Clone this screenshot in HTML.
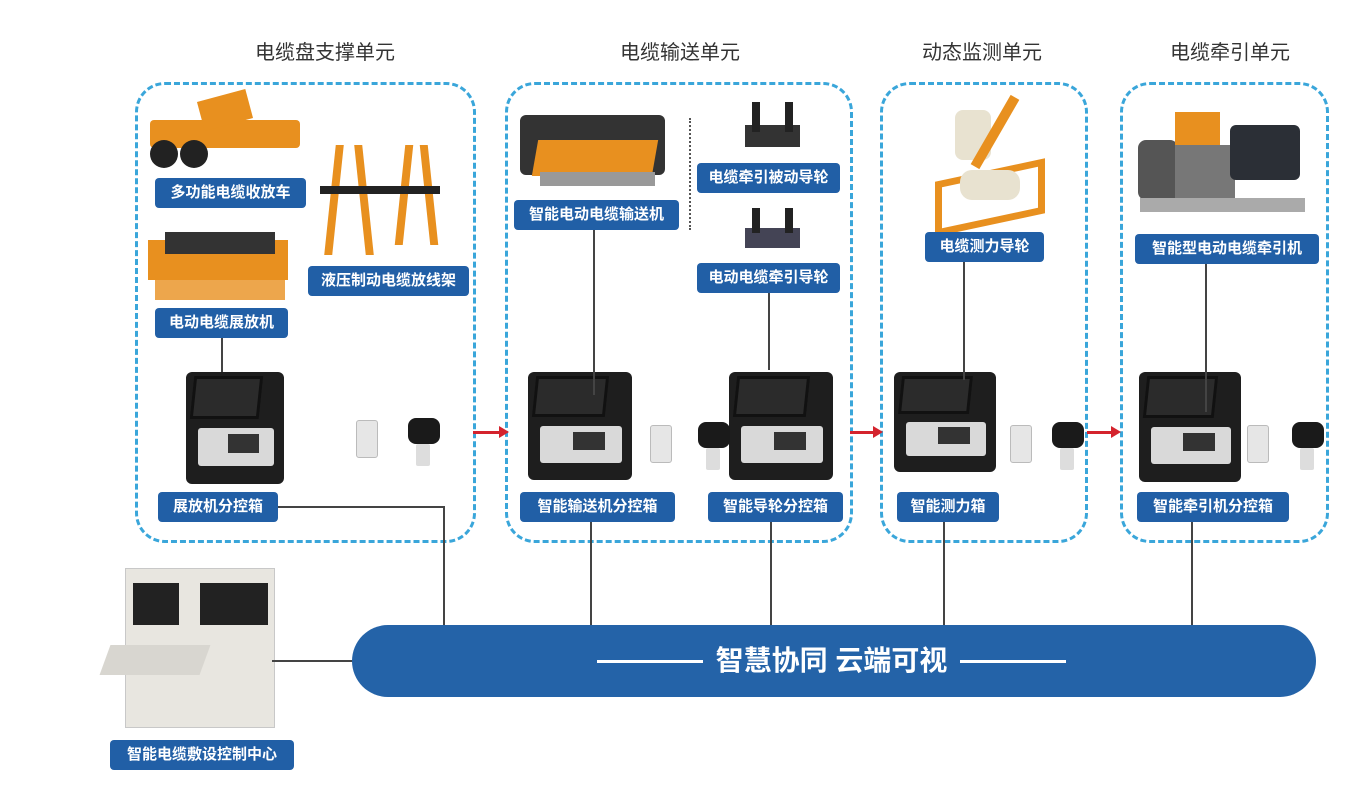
<!DOCTYPE html>
<html><head><meta charset="utf-8">
<style>
*{margin:0;padding:0;box-sizing:border-box}
body{width:1362px;height:804px;background:#fff;position:relative;overflow:hidden;font-family:"Liberation Sans","Noto Sans CJK SC",sans-serif}
.t{position:absolute;font-size:20px;color:#333;top:36px;white-space:nowrap}
.box{position:absolute;border:3px dashed #3aa6da;border-radius:30px}
.lb{position:absolute;background:#215fa6;color:#fff;font-weight:bold;font-size:15px;height:30px;line-height:30px;text-align:center;border-radius:4px;white-space:nowrap}
.v{position:absolute;width:2px;background:#444}
.h{position:absolute;height:2px;background:#444}
.case{position:absolute;background:#1e1e1e;border-radius:6px}
.case .lid{position:absolute;left:6%;top:4%;width:70%;height:38%;background:#2b2b2b;border:3px solid #111;transform:skewX(-6deg)}
.case .pan{position:absolute;left:12%;top:50%;width:78%;height:34%;background:#d9d9d9;border-radius:3px}
.case .pan:after{content:"";position:absolute;left:40%;top:15%;width:40%;height:50%;background:#333}
.sen{position:absolute;width:22px;height:38px;background:#e6e6e6;border:1px solid #bbb;border-radius:3px}
.sen2{position:absolute;width:32px;height:26px;background:#1a1a1a;border-radius:8px}
.sen2:after{content:"";position:absolute;left:8px;top:26px;width:14px;height:22px;background:#ddd;border-radius:2px}
.or{position:absolute;background:#e8901f}
.arr{position:absolute;height:3px;background:#d4232d}
.arr:after{content:"";position:absolute;right:-8px;top:-5px;border-left:10px solid #d4232d;border-top:6px solid transparent;border-bottom:6px solid transparent}
</style></head><body>
<div class="t" style="left:255px">电缆盘支撑单元</div>
<div class="t" style="left:620px">电缆输送单元</div>
<div class="t" style="left:922px">动态监测单元</div>
<div class="t" style="left:1170px">电缆牵引单元</div>

<div class="box" style="left:135px;top:82px;width:341px;height:461px"></div>
<div class="box" style="left:505px;top:82px;width:348px;height:461px"></div>
<div class="box" style="left:880px;top:82px;width:208px;height:461px"></div>
<div class="box" style="left:1120px;top:82px;width:209px;height:461px"></div>

<div class="arr" style="left:473px;top:431px;width:28px"></div>
<div class="arr" style="left:850px;top:431px;width:25px"></div>
<div class="arr" style="left:1087px;top:431px;width:26px"></div>

<div class="or" style="left:150px;top:120px;width:150px;height:28px;border-radius:4px"></div>
<div class="or" style="left:200px;top:95px;width:50px;height:30px;transform:rotate(-15deg)"></div>
<div style="position:absolute;left:150px;top:140px;width:28px;height:28px;border-radius:50%;background:#222"></div>
<div style="position:absolute;left:180px;top:140px;width:28px;height:28px;border-radius:50%;background:#222"></div>
<div class="or" style="left:330px;top:145px;width:8px;height:110px;transform:skewX(-6deg)"></div>
<div class="or" style="left:360px;top:145px;width:8px;height:110px;transform:skewX(6deg)"></div>
<div class="or" style="left:400px;top:145px;width:8px;height:100px;transform:skewX(-6deg)"></div>
<div class="or" style="left:425px;top:145px;width:8px;height:100px;transform:skewX(6deg)"></div>
<div style="position:absolute;left:320px;top:186px;width:120px;height:8px;background:#222"></div>
<div class="or" style="left:148px;top:240px;width:140px;height:40px"></div>
<div style="position:absolute;left:165px;top:232px;width:110px;height:22px;background:#333"></div>
<div class="or" style="left:155px;top:280px;width:130px;height:20px;opacity:.8"></div>

<div style="position:absolute;left:520px;top:115px;width:145px;height:60px;background:#333;border-radius:6px"></div>
<div class="or" style="left:535px;top:140px;width:120px;height:36px;transform:skewX(-10deg)"></div>
<div style="position:absolute;left:540px;top:172px;width:115px;height:14px;background:#999"></div>
<div style="position:absolute;left:689px;top:118px;height:112px;border-left:2px dotted #555"></div>
<div style="position:absolute;left:745px;top:125px;width:55px;height:22px;background:#333"></div>
<div style="position:absolute;left:752px;top:102px;width:8px;height:30px;background:#222"></div>
<div style="position:absolute;left:785px;top:102px;width:8px;height:30px;background:#222"></div>
<div style="position:absolute;left:745px;top:228px;width:55px;height:20px;background:#445"></div>
<div style="position:absolute;left:752px;top:208px;width:8px;height:25px;background:#222"></div>
<div style="position:absolute;left:785px;top:208px;width:8px;height:25px;background:#222"></div>

<div class="or" style="left:935px;top:170px;width:110px;height:55px;transform:skewY(-12deg);border:7px solid #e8901f;background:transparent"></div>
<div style="position:absolute;left:955px;top:110px;width:36px;height:50px;background:#e8e2d0;border-radius:8px"></div>
<div style="position:absolute;left:960px;top:170px;width:60px;height:30px;background:#e8e2d0;border-radius:12px"></div>
<div class="or" style="left:990px;top:92px;width:10px;height:80px;transform:rotate(30deg)"></div>

<div style="position:absolute;left:1138px;top:140px;width:40px;height:60px;background:#555;border-radius:8px"></div>
<div class="or" style="left:1175px;top:112px;width:45px;height:40px"></div>
<div style="position:absolute;left:1175px;top:145px;width:60px;height:60px;background:#777"></div>
<div style="position:absolute;left:1230px;top:125px;width:70px;height:55px;background:#2b2f36;border-radius:6px"></div>
<div style="position:absolute;left:1140px;top:198px;width:165px;height:14px;background:#aaa"></div>

<div class="case" style="left:186px;top:372px;width:98px;height:112px"><div class="lid"></div><div class="pan"></div></div>
<div class="case" style="left:528px;top:372px;width:104px;height:108px"><div class="lid"></div><div class="pan"></div></div>
<div class="case" style="left:729px;top:372px;width:104px;height:108px"><div class="lid"></div><div class="pan"></div></div>
<div class="case" style="left:894px;top:372px;width:102px;height:100px"><div class="lid"></div><div class="pan"></div></div>
<div class="case" style="left:1139px;top:372px;width:102px;height:110px"><div class="lid"></div><div class="pan"></div></div>

<div class="sen" style="left:356px;top:420px"></div><div class="sen2" style="left:408px;top:418px"></div>
<div class="sen" style="left:650px;top:425px"></div><div class="sen2" style="left:698px;top:422px"></div>
<div class="sen" style="left:1010px;top:425px"></div><div class="sen2" style="left:1052px;top:422px"></div>
<div class="sen" style="left:1247px;top:425px"></div><div class="sen2" style="left:1292px;top:422px"></div>

<div style="position:absolute;left:125px;top:568px;width:150px;height:160px;background:#e8e6e0;border:1px solid #c8c8c8"></div>
<div style="position:absolute;left:133px;top:583px;width:46px;height:42px;background:#222"></div>
<div style="position:absolute;left:200px;top:583px;width:68px;height:42px;background:#222"></div>
<div style="position:absolute;left:105px;top:645px;width:100px;height:30px;background:#d8d6d0;transform:skewX(-20deg)"></div>

<div class="v" style="left:221px;top:337px;height:35px"></div>
<div class="v" style="left:593px;top:229px;height:166px"></div>
<div class="v" style="left:768px;top:292px;height:78px"></div>
<div class="v" style="left:963px;top:262px;height:118px"></div>
<div class="v" style="left:1205px;top:264px;height:148px"></div>
<div class="h" style="left:278px;top:506px;width:167px"></div>
<div class="v" style="left:443px;top:506px;height:122px"></div>
<div class="v" style="left:590px;top:521px;height:107px"></div>
<div class="v" style="left:770px;top:521px;height:107px"></div>
<div class="v" style="left:943px;top:521px;height:107px"></div>
<div class="v" style="left:1191px;top:521px;height:107px"></div>
<div class="h" style="left:272px;top:660px;width:82px"></div>

<div class="lb" style="left:155px;top:178px;width:151px">多功能电缆收放车</div>
<div class="lb" style="left:308px;top:266px;width:161px">液压制动电缆放线架</div>
<div class="lb" style="left:155px;top:308px;width:133px">电动电缆展放机</div>
<div class="lb" style="left:158px;top:492px;width:120px">展放机分控箱</div>
<div class="lb" style="left:514px;top:200px;width:165px">智能电动电缆输送机</div>
<div class="lb" style="left:697px;top:163px;width:143px">电缆牵引被动导轮</div>
<div class="lb" style="left:697px;top:263px;width:143px">电动电缆牵引导轮</div>
<div class="lb" style="left:520px;top:492px;width:155px">智能输送机分控箱</div>
<div class="lb" style="left:708px;top:492px;width:135px">智能导轮分控箱</div>
<div class="lb" style="left:925px;top:232px;width:119px">电缆测力导轮</div>
<div class="lb" style="left:897px;top:492px;width:102px">智能测力箱</div>
<div class="lb" style="left:1135px;top:234px;width:184px">智能型电动电缆牵引机</div>
<div class="lb" style="left:1137px;top:492px;width:152px">智能牵引机分控箱</div>
<div class="lb" style="left:110px;top:740px;width:184px">智能电缆敷设控制中心</div>

<div style="position:absolute;left:352px;top:625px;width:964px;height:72px;background:#2463a8;border-radius:36px"></div>
<div style="position:absolute;left:597px;top:660px;width:106px;height:3px;background:#fff"></div>
<div style="position:absolute;left:960px;top:660px;width:106px;height:3px;background:#fff"></div>
<div style="position:absolute;left:703px;top:643px;width:257px;text-align:center;color:#fff;font-weight:bold;font-size:28px;line-height:36px">智慧协同 云端可视</div>
</body></html>
